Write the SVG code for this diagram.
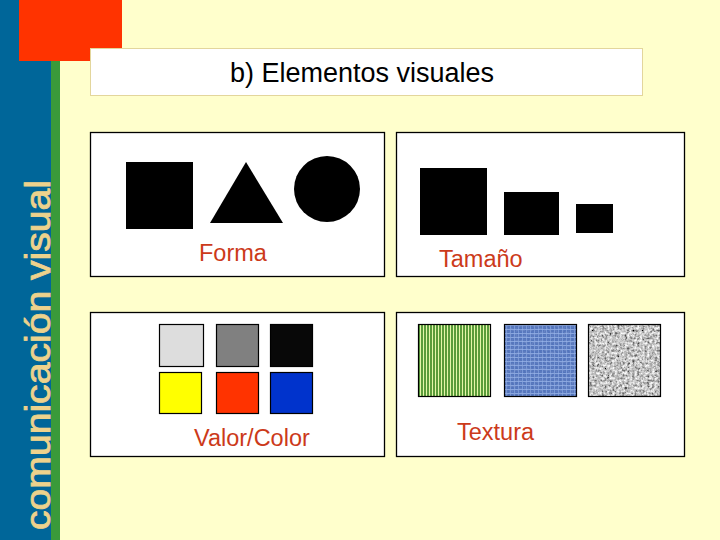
<svg xmlns="http://www.w3.org/2000/svg" width="720" height="540" viewBox="0 0 720 540">
<style>
.panel{fill:#FFFFFF;stroke:#000000;stroke-width:1.3}
.lbl{font-family:"Liberation Sans",Arial,sans-serif;font-size:23.5px;fill:#CC3A1A}
.sw{stroke:#000000;stroke-width:1.2}
.shape{fill:#000000}
</style>
<defs>
<pattern id="stripes" x="418" y="0" width="3" height="10" patternUnits="userSpaceOnUse">
<rect x="0" y="0" width="3" height="10" fill="#E4F6A8"/>
<rect x="0" y="0" width="2" height="10" fill="#5A9C3A"/>
</pattern>
<pattern id="weave" x="504" y="324" width="4" height="4" patternUnits="userSpaceOnUse">
<rect width="4" height="4" fill="#5274BC"/>
<rect x="0" y="1" width="4" height="1" fill="#A4BEF0" opacity="0.7"/>
<rect x="2" y="0" width="1" height="4" fill="#95B2EA" opacity="0.6"/>
</pattern>
<filter id="noiseBlue" x="0" y="0" width="1" height="1">
<feTurbulence type="fractalNoise" baseFrequency="0.5" numOctaves="1" seed="5" result="n"/>
<feColorMatrix in="n" type="matrix" values="0 0 0 0 0.2  0 0 0 0 0.3  0 0 0 0 0.6  1.5 0 0 0 -0.6" result="w"/>
<feComposite in="w" in2="SourceGraphic" operator="atop"/>
</filter>
<filter id="noiseGray" x="0" y="0" width="1" height="1">
<feTurbulence type="fractalNoise" baseFrequency="0.4" numOctaves="3" seed="3"/>
<feColorMatrix type="matrix" values="1.5 0 0 0 -0.2  1.5 0 0 0 -0.2  1.5 0 0 0 -0.2  0 0 0 0 1"/>
</filter>
</defs>
<rect x="0" y="0" width="720" height="540" fill="#FFFFCC"/>
<g id="sidebar">
<rect x="0" y="0" width="51" height="540" fill="#006699"/>
<rect x="51" y="0" width="9" height="540" fill="#3A9A3A"/>
<rect x="19" y="0" width="103" height="61" fill="#FF3300"/>
<text transform="rotate(-90)" x="-530" y="50" font-family="'Liberation Sans',Arial,sans-serif" font-size="35" fill="#EDD28C" stroke="#EDD28C" stroke-width="0.8" textLength="350" lengthAdjust="spacingAndGlyphs">comunicación visual</text>
</g>
<g id="title">
<rect x="90.5" y="48.5" width="552" height="47" fill="#FFFFFF" stroke="#E3D69C" stroke-width="1"/>
<text x="230" y="82" font-family="'Liberation Sans',Arial,sans-serif" font-size="27" fill="#000000">b) Elementos visuales</text>
</g>
<g id="panel-forma">
<rect class="panel" x="90.5" y="132.5" width="294" height="144"/>
<rect class="shape" x="126" y="162" width="67" height="67"/>
<polygon class="shape" points="246,162 210,223 283,223"/>
<circle class="shape" cx="327" cy="189" r="33"/>
<text class="lbl" x="199" y="261">Forma</text>
</g>
<g id="panel-tamano">
<rect class="panel" x="396.5" y="132.5" width="288" height="144"/>
<rect class="shape" x="420" y="168" width="67" height="67"/>
<rect class="shape" x="504" y="192" width="55" height="43"/>
<rect class="shape" x="576" y="204" width="37" height="29"/>
<text class="lbl" x="439" y="267">Tamaño</text>
</g>
<g id="panel-valor">
<rect class="panel" x="90.5" y="312.5" width="294" height="144"/>
<rect class="sw" x="159.5" y="324.5" width="44" height="42" fill="#DDDDDD"/>
<rect class="sw" x="216.5" y="324.5" width="42" height="42" fill="#808080"/>
<rect class="sw" x="270.5" y="324.5" width="42" height="42" fill="#080808"/>
<rect class="sw" x="159.5" y="372.5" width="42" height="41" fill="#FFFF00"/>
<rect class="sw" x="216.5" y="372.5" width="42" height="41" fill="#FF3300"/>
<rect class="sw" x="270.5" y="372.5" width="42" height="41" fill="#0033CC"/>
<text class="lbl" x="194" y="446">Valor/Color</text>
</g>
<g id="panel-textura">
<rect class="panel" x="396.5" y="312.5" width="288" height="144"/>
<rect x="418.5" y="324.5" width="72" height="72" fill="url(#stripes)" stroke="#000" stroke-width="1.2"/>
<rect x="504" y="324" width="73" height="73" fill="url(#weave)" filter="url(#noiseBlue)"/>
<rect x="504.5" y="324.5" width="72" height="72" fill="none" stroke="#000" stroke-width="1.2"/>
<rect x="588" y="324" width="73" height="73" fill="#BBBBBB" filter="url(#noiseGray)"/>
<rect x="588.5" y="324.5" width="72" height="72" fill="none" stroke="#000" stroke-width="1.2"/>
<text class="lbl" x="457" y="440">Textura</text>
</g>
</svg>
